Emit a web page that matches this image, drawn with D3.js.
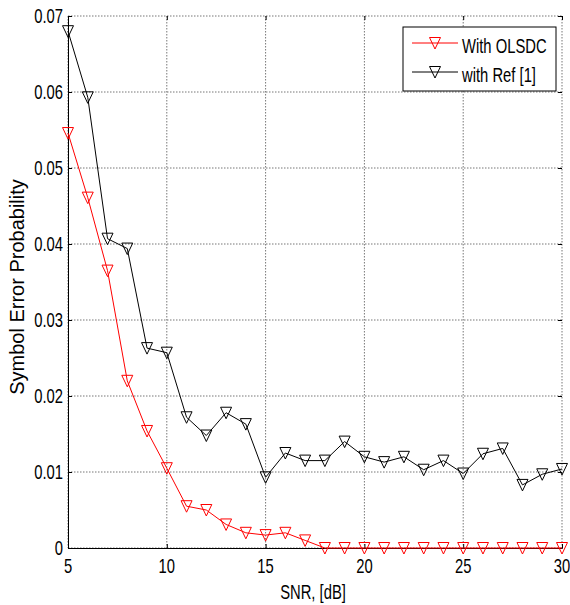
<!DOCTYPE html>
<html>
<head>
<meta charset="utf-8">
<script src="https://cdn.jsdelivr.net/npm/d3@7"></script>
<style>
  body { margin: 0; background: #fff; }
  text { font-family: "Liberation Sans", Arial, sans-serif; font-size: 20px; fill: #000; }
</style>
</head>
<body>
<div id="chart"></div>
<script>
// SNR values, dB
const snr = [5,6,7,8,9,10,11,12,13,14,15,16,17,18,19,20,21,22,23,24,25,26,27,28,29,30];
// symbol error probability
const olsdc = [0.0546,0.0461,0.0365,0.0220,0.0154,0.0105,0.0055,0.0050,0.0031,0.0020,0.0017,0.0020,0.0010,
  0,0,0,0,0,0,0,0,0,0,0,0,0];
const ref1 = [0.0680,0.0593,0.0407,0.0394,0.0263,0.0257,0.0172,0.0148,0.0178,0.0163,0.0093,0.0125,0.0115,
  0.0115,0.0140,0.0120,0.0113,0.0120,0.0103,0.0115,0.0098,0.0124,0.0131,0.0083,0.0097,0.0104];
const xTicks = [5,10,15,20,25,30];
const yTicks = [0,0.01,0.02,0.03,0.04,0.05,0.06,0.07];
const seriesNames = ['With OLSDC','with Ref [1]'];
const seriesColors = ['#ff0000','#000000'];

const width = 570, height = 605;
const margin = {top: 16, right: 8, bottom: 57, left: 68};
const innerW = width - margin.left - margin.right;
const innerH = height - margin.top - margin.bottom;
const squash = 0.74; // text in the picture is narrowed horizontally

const svg = d3.select('#chart').append('svg')
  .attr('width', width).attr('height', height);
const g = svg.append('g').attr('transform', 'translate(' + margin.left + ',' + margin.top + ')');

const x = d3.scaleLinear().domain([5, 30]).range([0, innerW]);
const y = d3.scaleLinear().domain([0, 0.07]).range([innerH, 0]);

// grid (dotted)
g.append('g').selectAll('line').data(xTicks).join('line')
  .attr('x1', d => x(d)).attr('x2', d => x(d)).attr('y1', 0).attr('y2', innerH)
  .attr('stroke', '#777').attr('stroke-width', 1).attr('stroke-dasharray', '1.5,1.5');
g.append('g').selectAll('line').data(yTicks).join('line')
  .attr('x1', 0).attr('x2', innerW).attr('y1', d => y(d)).attr('y2', d => y(d))
  .attr('stroke', '#777').attr('stroke-width', 1).attr('stroke-dasharray', '1.5,1.5');

// axes
const xAxis = d3.axisBottom(x).tickValues(xTicks).tickSize(-4).tickFormat('');
const yAxis = d3.axisLeft(y).tickValues(yTicks).tickSize(-4).tickFormat('');
g.append('g').attr('transform', 'translate(0,' + innerH + ')').call(xAxis)
  .call(s => s.selectAll('path,line').attr('stroke', '#000'));
g.append('g').call(yAxis)
  .call(s => s.selectAll('path,line').attr('stroke', '#000'));
// small ticks on top and right edges
g.append('g').call(d3.axisTop(x).tickValues(xTicks).tickSize(-4).tickFormat(''))
  .call(s => s.select('.domain').remove())
  .call(s => s.selectAll('line').attr('stroke', '#000'));
g.append('g').attr('transform', 'translate(' + innerW + ',0)')
  .call(d3.axisRight(y).tickValues(yTicks).tickSize(-4).tickFormat(''))
  .call(s => s.select('.domain').remove())
  .call(s => s.selectAll('line').attr('stroke', '#000'));

// tick labels
g.append('g').selectAll('text').data(xTicks).join('text')
  .attr('transform', d => 'translate(' + x(d) + ',' + (innerH + 25) + ') scale(' + squash + ',1)')
  .attr('text-anchor', 'middle').text(d => d);
g.append('g').selectAll('text').data(yTicks).join('text')
  .attr('transform', d => 'translate(-5,' + (y(d) + 7) + ') scale(' + squash + ',1)')
  .attr('text-anchor', 'end').text(d => d === 0 ? '0' : d3.format('.2f')(d));

// axis titles
svg.append('text')
  .attr('transform', 'translate(' + (margin.left + innerW / 2 - 2) + ',599) scale(' + squash + ',1)')
  .attr('text-anchor', 'middle').text('SNR, [dB]');
svg.append('text')
  .attr('transform', 'translate(24,287) rotate(-90)')
  .attr('text-anchor', 'middle').text('Symbol Error Probability');

// series
const tri = 'M-5.5,-5.5L5.5,-5.5L0,6Z';
const series = [olsdc, ref1];
const line = d3.line().x((d, i) => x(snr[i])).y(d => y(d));
series.forEach((vals, k) => {
  g.append('path').datum(vals).attr('d', line)
    .attr('fill', 'none').attr('stroke', seriesColors[k]).attr('stroke-width', 1);
  g.append('g').selectAll('path').data(vals).join('path')
    .attr('transform', (d, i) => 'translate(' + x(snr[i]) + ',' + y(d) + ')')
    .attr('d', tri).attr('fill', 'none').attr('stroke', seriesColors[k]).attr('stroke-width', 1);
});

// legend
const leg = svg.append('g').attr('transform', 'translate(403,27)');
leg.append('rect').attr('width', 153).attr('height', 64)
  .attr('fill', '#fff').attr('stroke', '#000').attr('stroke-width', 1);
seriesNames.forEach((name, k) => {
  const ly = 16 + k * 29;
  leg.append('line').attr('x1', 9).attr('x2', 55).attr('y1', ly).attr('y2', ly)
    .attr('stroke', seriesColors[k]).attr('stroke-width', 1);
  leg.append('path').attr('transform', 'translate(32,' + ly + ')').attr('d', tri)
    .attr('fill', 'none').attr('stroke', seriesColors[k]);
  leg.append('text').attr('transform', 'translate(59,' + (ly + 10) + ') scale(' + squash + ',1)')
    .text(name);
});
</script>
</body>
</html>
